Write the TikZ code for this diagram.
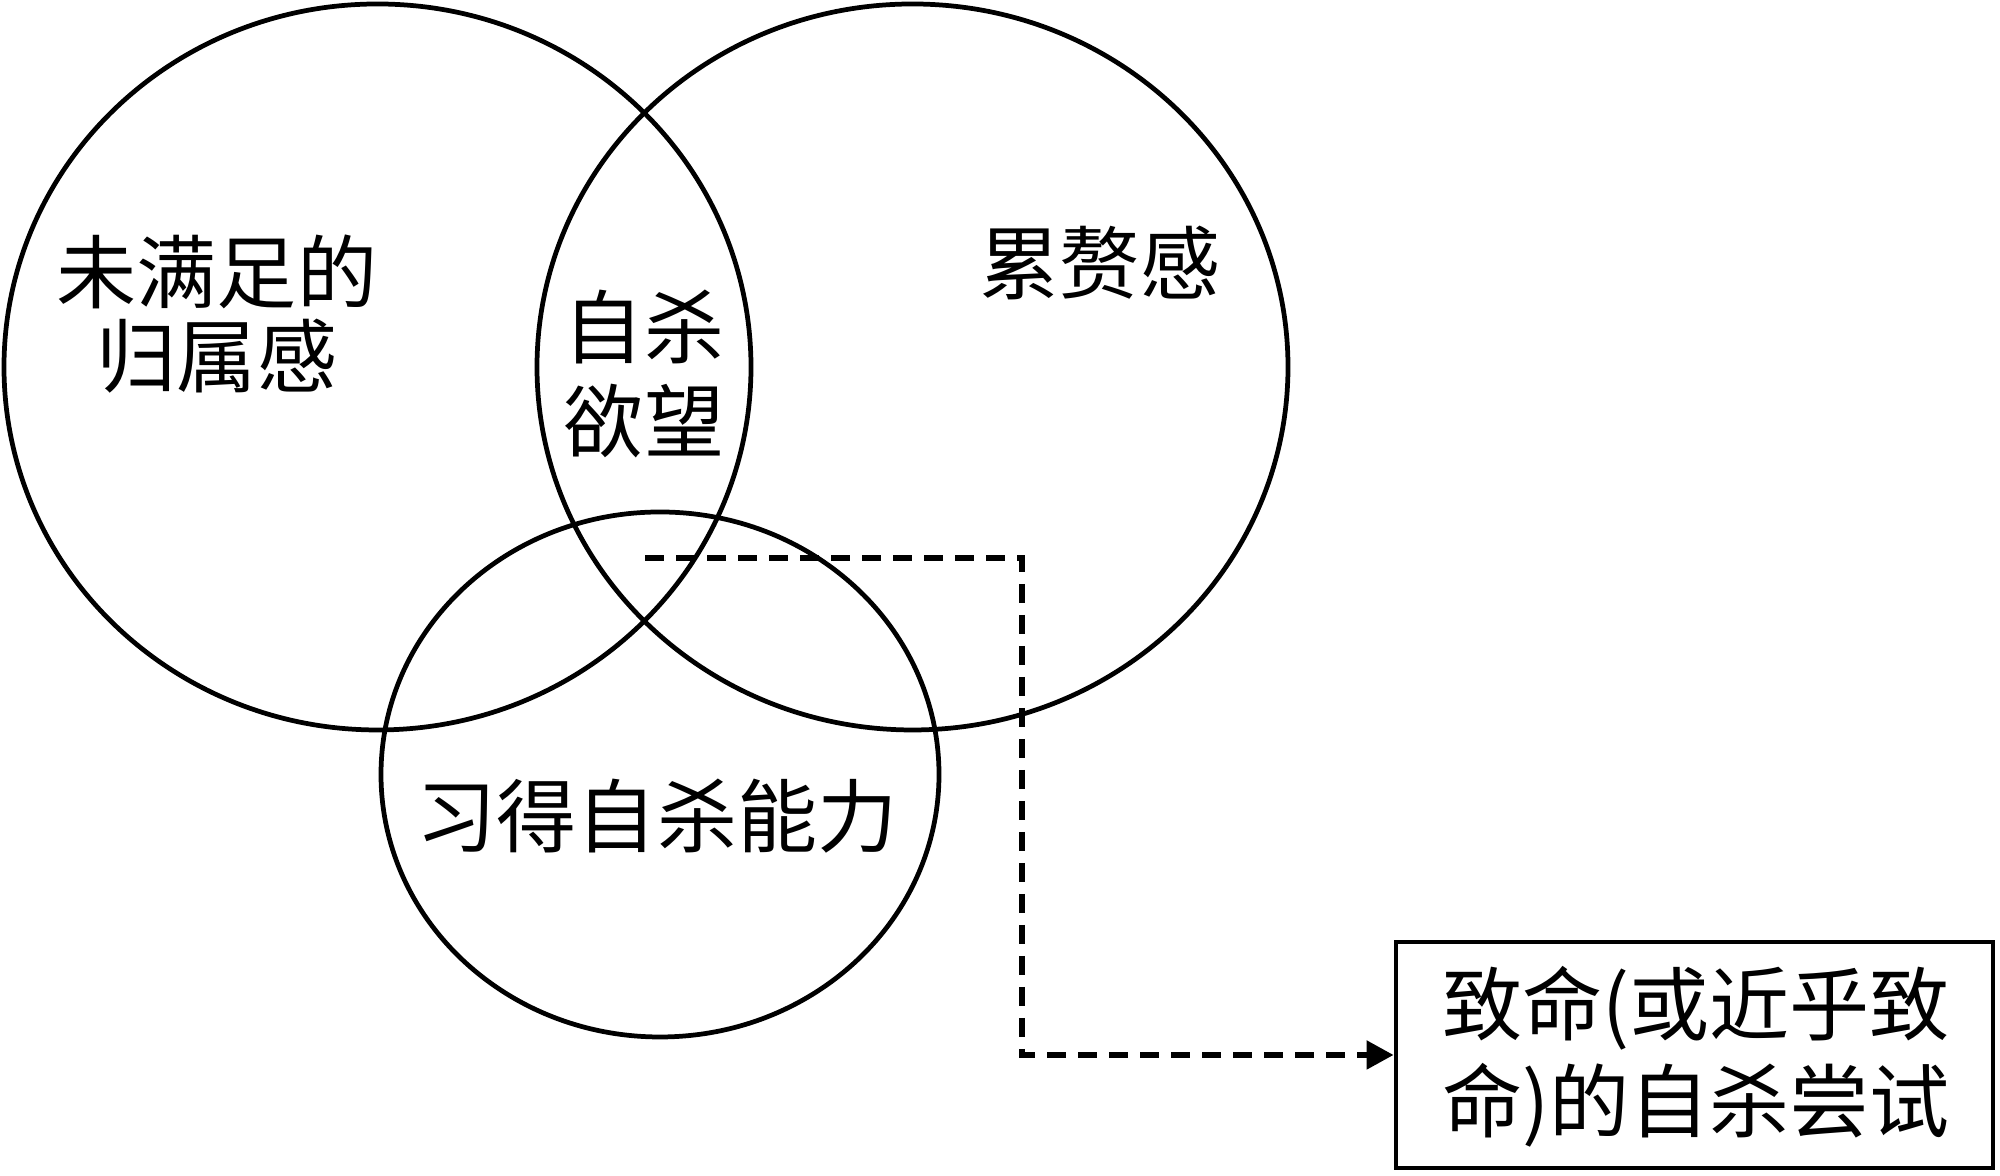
\documentclass[tikz,border=0pt]{standalone}
\usepackage{fontspec}
\setmainfont{Noto Sans CJK SC}
\usetikzlibrary{arrows.meta,shapes.geometric}
\begin{document}
\begin{tikzpicture}[
  ring/.style={draw=black, line width=1.35pt, ellipse, inner sep=0pt},
  lbl/.style={font=\fontsize{22.8}{#1}\selectfont, align=center, inner sep=0pt},
  lbl/.default=25.3pt,
  outbox/.style={draw=black, line width=1.4pt, minimum width=5.97cm, minimum height=2.26cm, inner sep=0pt},
  flow/.style={line width=1.5pt, dash pattern=on 0.19cm off 0.12cm, -{Triangle[length=0.27cm,width=0.28cm]}}
]
\useasboundingbox (0,0) rectangle (20,11.76);
% circles
\node[ring, minimum width=7.47cm, minimum height=7.26cm] (belong) at (3.775,8.09) {};
\node[ring, minimum width=7.51cm, minimum height=7.26cm] (burden) at (9.125,8.09) {};
\node[ring, minimum width=5.58cm, minimum height=5.25cm] (capab) at (6.60,4.015) {};
% labels
\node[lbl=24pt] (tbelong) at (2.17,8.62) {未满足的\\归属感};
\node[lbl=27pt] (tdesire) at (6.44,8.02) {自杀\\欲望};
\node[lbl] (tburden) at (11.00,9.13) {累赘感};
\node[lbl] (tcapab) at (6.57,3.60) {习得自杀能力};
% outcome box
\node[outbox] (attempt) at (16.945,1.21) {};
\node[lbl=27.6pt] (tattempt) at (16.96,1.195) {致命(或近乎致\\命)的自杀尝试};
% connector
\coordinate (start) at (6.45,6.18);
\coordinate (turn) at (10.22,6.18);
\draw[flow] (start) -- (turn) |- (attempt.west);
\end{tikzpicture}
\end{document}
